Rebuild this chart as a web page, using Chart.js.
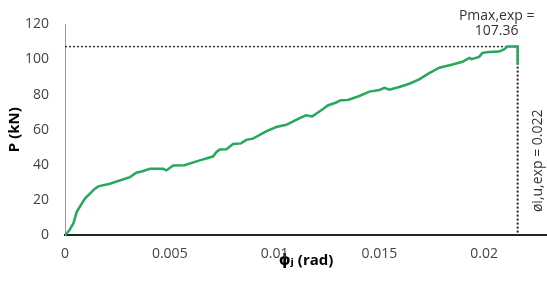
<!DOCTYPE html>
<html>
<head>
<meta charset="utf-8">
<script src="https://cdn.jsdelivr.net/npm/chart.js@4/dist/chart.umd.min.js"></script>
<style>
  html, body { margin: 0; padding: 0; background: #fff; }
  #wrap { width: 547px; height: 281px; position: relative; }
</style>
</head>
<body>
<div id="wrap"><canvas id="c"></canvas></div>
<script>
// ---- data ----
const phiValues = [0, 0.0002, 0.0004, 0.00056, 0.00095, 0.00143, 0.00159, 0.00214, 0.0031, 0.0034, 0.0037,
  0.00405, 0.00468, 0.00484, 0.00516, 0.0057, 0.00643, 0.00706, 0.00722, 0.00738, 0.0077, 0.00802,
  0.0084, 0.00865, 0.00897, 0.0096, 0.01008, 0.01056, 0.0112, 0.0115, 0.0118, 0.012, 0.0123, 0.01254,
  0.01294, 0.01317, 0.0135, 0.01405, 0.01452, 0.015, 0.01524, 0.01548, 0.01595, 0.01643, 0.0169,
  0.01738, 0.01786, 0.01849, 0.01897, 0.01929, 0.0194, 0.01976, 0.01992, 0.02024, 0.02071, 0.02095,
  0.02111, 0.0216, 0.0216];
const loadValues = [0, 2.5, 6.6, 13.2, 20.8, 26.4, 27.7, 29.2, 33, 35.5, 36.3,
  37.7, 37.7, 36.8, 39.6, 39.8, 42.5, 44.7, 47.2, 48.7, 48.9, 51.9,
  52.2, 54.2, 54.9, 59, 61.5, 62.8, 66.6, 68.2, 67.6, 69.2, 71.7, 73.8,
  75.5, 76.8, 76.9, 79.2, 81.7, 82.6, 83.9, 82.8, 84.3, 86.2, 88.7,
  92.2, 95.3, 97.2, 98.7, 100.9, 100.2, 101.5, 103.8, 104.3, 104.5, 105.7,
  107.36, 107.36, 97];
const pMax = 107.36;
const phiU = 0.0216;
const xTicks = [0, 0.005, 0.01, 0.015, 0.02];
const xTickLabels = ['0', '0.005', '0.01', '0.015', '0.02'];
const yTicks = [0, 20, 40, 60, 80, 100, 120];
const pMaxLabel = ['Pmax,exp =', '107.36'];
const phiULabel = 'øi,u,exp = 0.022';
const xTitle = 'ϕⱼ (rad)';
const yTitle = 'P (kN)';

const curve = phiValues.map((x, i) => ({ x: x, y: loadValues[i] }));
const hLine = [{ x: 0, y: pMax }, { x: phiU, y: pMax }];
const vLine = [{ x: phiU, y: pMax }, { x: phiU, y: 0 }];

const FONT = "'Open Sans', 'DejaVu Sans', sans-serif";

const annot = {
  id: 'annot',
  afterDatasetsDraw(chart) {
    const ctx = chart.ctx;
    const xs = chart.scales.x, ys = chart.scales.y;
    const px = xs.getPixelForValue(phiU);
    const py = ys.getPixelForValue(pMax);
    ctx.save();
    ctx.fillStyle = '#333';
    ctx.font = '14px ' + FONT;
    ctx.textAlign = 'center';
    ctx.textBaseline = 'middle';
    ctx.fillText(pMaxLabel[0], px - 21, py - 31);
    ctx.fillText(pMaxLabel[1], px - 21, py - 16);
    ctx.translate(px + 20, (ys.getPixelForValue(0) + py) / 2 + 20);
    ctx.rotate(-Math.PI / 2);
    ctx.fillText(phiULabel, 0, 0);
    ctx.restore();
  }
};

new Chart(document.getElementById('c'), {
  type: 'scatter',
  data: {
    datasets: [
      { data: curve, showLine: true, borderColor: '#27a85a', borderWidth: 2.5, pointRadius: 0, tension: 0, order: 1 },
      { data: hLine, showLine: true, borderColor: '#333', borderWidth: 1.5, borderDash: [2, 2], pointRadius: 0, order: 2 },
      { data: vLine, showLine: true, borderColor: '#222', borderWidth: 2, borderDash: [2, 2], pointRadius: 0, order: 2 }
    ]
  },
  options: {
    responsive: true,
    maintainAspectRatio: false,
    animation: false,
    layout: { padding: { top: 24, right: 0, left: 0, bottom: 0 } },
    plugins: { legend: { display: false }, tooltip: { enabled: false } },
    scales: {
      x: {
        type: 'linear', min: 0, max: 0.023,
        grid: { display: false, drawTicks: false },
        border: { display: true, color: '#222', width: 2, dash: [2, 2] },
        afterBuildTicks: (s) => { s.ticks = xTicks.map(v => ({ value: v })); },
        afterFit: (s) => { s.height = 46; },
        ticks: {
          padding: 11, color: '#444', font: { family: FONT, size: 14 },
          maxRotation: 0, autoSkip: false,
          callback: (v) => { const i = xTicks.indexOf(v); return i >= 0 ? xTickLabels[i] : ''; }
        },
        title: { display: true, text: xTitle, color: '#000', font: { family: FONT, size: 15, weight: 'bold' }, padding: { top: 0, bottom: 11 } }
      },
      y: {
        type: 'linear', min: 0, max: 120,
        grid: { display: false, drawTicks: false },
        border: { display: true, color: '#999', width: 1 },
        afterBuildTicks: (s) => { s.ticks = yTicks.map(v => ({ value: v })); },
        afterFit: (s) => { s.width = 65; },
        ticks: { padding: 16, color: '#444', font: { family: FONT, size: 14 } },
        title: { display: true, text: yTitle, color: '#000', font: { family: FONT, size: 15, weight: 'bold' }, padding: { top: 6, bottom: 0 } }
      }
    }
  },
  plugins: [annot]
});
</script>
</body>
</html>
